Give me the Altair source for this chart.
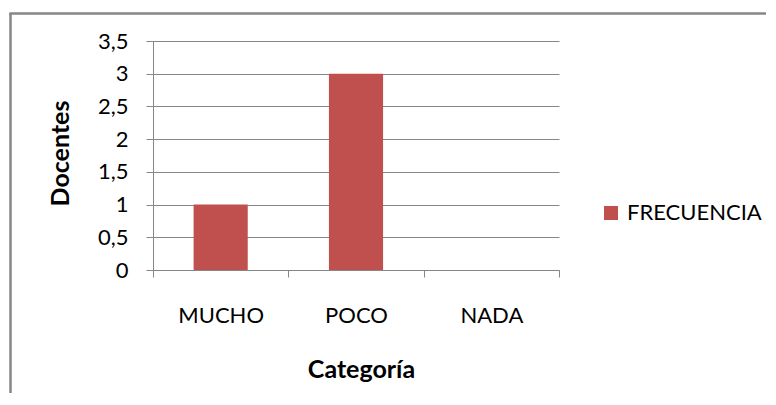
import altair as alt
import pandas as pd

categorias = ["MUCHO", "POCO", "NADA"]
frecuencia = [1, 3, 0]
serie = ["FRECUENCIA", "FRECUENCIA", "FRECUENCIA"]
y_ticks = [0, 0.5, 1, 1.5, 2, 2.5, 3, 3.5]

df = pd.DataFrame({"Categoría": categorias, "Docentes": frecuencia, "serie": serie})

GRAY = "#868686"
FONT = "Lato"

bars = alt.Chart(df).mark_bar(width=alt.RelativeBandSize(0.4), color="#C0504D").encode(
    x=alt.X(
        "Categoría:N",
        sort=categorias,
        scale=alt.Scale(paddingInner=0, paddingOuter=0),
        axis=alt.Axis(
            labelAngle=0,
            tickBand="extent",
            grid=False,
            domainColor=GRAY,
            tickColor=GRAY,
            tickSize=7,
            labelFont=FONT,
            labelFontSize=22,
            labelColor="black",
            labelBaseline="alphabetic",
            labelPadding=45,
            title="Categoría",
            titleFont=FONT,
            titleFontSize=25,
            titleFontWeight="bold",
            titleColor="black",
            titleBaseline="alphabetic",
            titleX=208,
            titleY=107,
        ),
    ),
    y=alt.Y(
        "Docentes:Q",
        scale=alt.Scale(domain=[0, 3.5], nice=False),
        axis=alt.Axis(
            values=y_ticks,
            labelExpr="replace(format(datum.value, '~g'), '.', ',')",
            grid=True,
            gridColor=GRAY,
            gridWidth=1,
            domainColor=GRAY,
            tickColor=GRAY,
            tickSize=7,
            labelFont=FONT,
            labelFontSize=22,
            labelColor="black",
            labelPadding=18,
            title="Docentes",
            titleFont=FONT,
            titleFontSize=25,
            titleFontWeight="bold",
            titleColor="black",
            titleAngle=270,
            titleBaseline="alphabetic",
            titleAlign="center",
            titleX=-85,
            titleY=112,
        ),
    ),
    color=alt.Color(
        "serie:N",
        scale=alt.Scale(range=["#C0504D"]),
        legend=alt.Legend(
            title=None,
            orient="none",
            legendX=447,
            legendY=161,
            symbolType="square",
            symbolSize=196,
            symbolStrokeWidth=0,
            symbolOpacity=1,
            labelFont=FONT,
            labelFontSize=22,
            labelColor="black",
            labelOffset=5,
            padding=0,
        ),
    ),
)

frame_df = pd.DataFrame({"k": [0]})
frame_left = alt.Chart(frame_df).mark_rule(color=GRAY, strokeWidth=2.5).encode(
    x=alt.value(-142.5), y=alt.value(-28), y2=alt.value(400)
)
frame_top = alt.Chart(frame_df).mark_rule(color=GRAY, strokeWidth=2.5).encode(
    x=alt.value(-143.5), x2=alt.value(700), y=alt.value(-27.5)
)

chart = (
    alt.layer(frame_left, frame_top, bars)
    .properties(
        width=406,
        height=229,
        autosize=alt.AutoSizeParams(type="none"),
        padding={"left": 145, "top": 33, "right": 207, "bottom": 123},
    )
    .configure_view(stroke="transparent")
)

chart.save("out.html", embed_options={"renderer": "svg", "actions": False})
